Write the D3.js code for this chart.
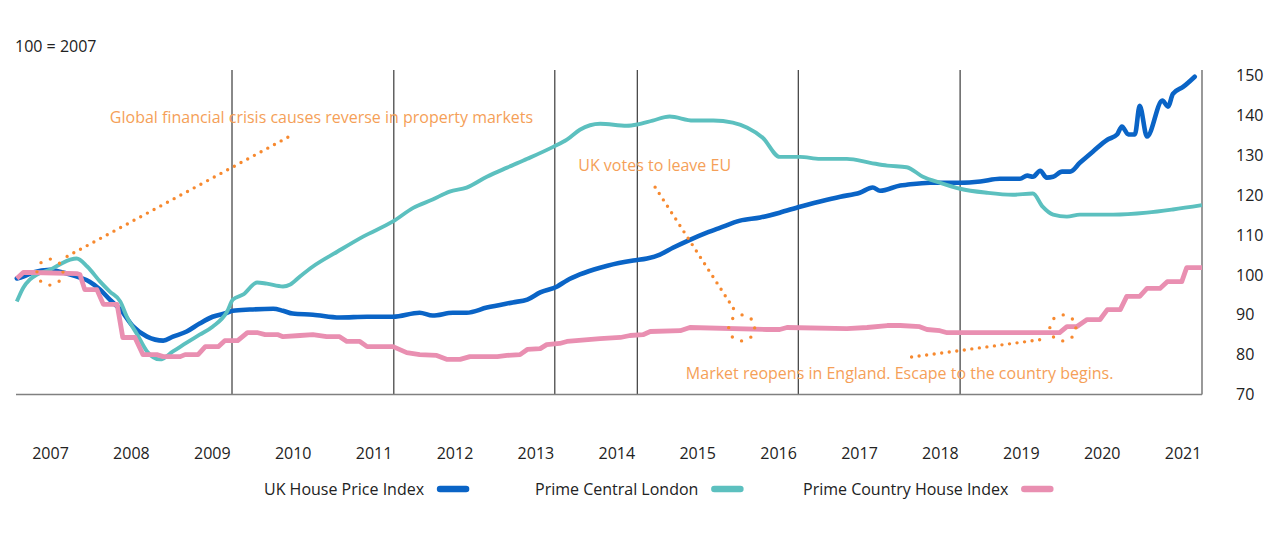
<!DOCTYPE html>
<html>
<head>
<meta charset="utf-8">
<script src="https://cdn.jsdelivr.net/npm/d3@7"></script>
<style>
  html, body { margin: 0; padding: 0; background: #fff; }
  svg { display: block; font-family: "Open Sans", Lato, sans-serif; }
</style>
</head>
<body>
<svg id="chart" width="1280" height="541"></svg>
<script>
// ---------- DATA ----------
const yearLabels = [2007, 2008, 2009, 2010, 2011, 2012, 2013, 2014, 2015, 2016, 2017, 2018, 2019, 2020, 2021];
const valueTicks = [70, 80, 90, 100, 110, 120, 130, 140, 150];
const gridYears = [2009.25, 2011.25, 2013.24, 2014.26, 2016.25, 2018.25];

// [decimal year, index value]
const ukHPI = [
  [2006.59, 99.1], [2006.67, 99.6], [2006.79, 100.6], [2007.00, 101.3], [2007.12, 100.8], [2007.25, 100.1],
  [2007.37, 99.3], [2007.49, 98.3], [2007.62, 96.3], [2007.74, 93.8], [2007.87, 91.3], [2008.03, 87.0],
  [2008.20, 84.5], [2008.40, 83.5], [2008.52, 84.5], [2008.69, 85.8], [2008.85, 87.8], [2009.01, 89.5],
  [2009.19, 90.5], [2009.26, 91.0], [2009.47, 91.3], [2009.76, 91.5], [2009.88, 91.0], [2010.00, 90.3],
  [2010.25, 90.0], [2010.58, 89.3], [2010.92, 89.5], [2011.24, 89.5], [2011.57, 90.5], [2011.73, 89.8],
  [2011.98, 90.5], [2012.15, 90.5], [2012.40, 91.8], [2012.72, 93.1], [2012.90, 93.8], [2013.06, 95.6],
  [2013.27, 97.1], [2013.39, 98.6], [2013.55, 100.1], [2013.80, 101.8], [2013.89, 102.3], [2014.21, 103.6],
  [2014.38, 104.1], [2014.54, 105.1], [2014.70, 106.8], [2014.91, 108.8], [2015.12, 110.6], [2015.28, 111.8],
  [2015.53, 113.6], [2015.78, 114.4], [2016.02, 115.6], [2016.27, 117.1], [2016.52, 118.4], [2016.77, 119.6],
  [2017.01, 120.6], [2017.17, 121.9], [2017.26, 121.1], [2017.51, 122.4], [2017.59, 122.6], [2017.88, 123.1],
  [2018.25, 123.1], [2018.50, 123.4], [2018.74, 124.1], [2018.99, 124.1], [2019.08, 124.9], [2019.15, 124.6],
  [2019.24, 126.1], [2019.32, 124.4], [2019.40, 124.6], [2019.51, 125.9], [2019.61, 125.9], [2019.73, 128.1],
  [2019.89, 130.9], [2020.07, 133.9], [2020.19, 135.2], [2020.25, 137.2], [2020.33, 135.2], [2020.41, 135.2],
  [2020.47, 142.4], [2020.56, 134.7], [2020.75, 143.7], [2020.82, 142.2], [2020.88, 145.4], [2021.01, 147.2],
  [2021.15, 149.7]
];

const primeCentralLondon = [
  [2006.59, 93.3], [2006.67, 96.8], [2006.75, 98.8], [2006.84, 100.1], [2007.00, 101.3], [2007.12, 102.6],
  [2007.25, 103.8], [2007.33, 104.1], [2007.46, 102.1], [2007.62, 98.3], [2007.74, 95.8], [2007.87, 93.3],
  [2007.95, 89.5], [2008.08, 85.0], [2008.20, 80.8], [2008.36, 78.8], [2008.52, 80.8], [2008.69, 83.0],
  [2008.85, 85.0], [2009.01, 87.0], [2009.19, 90.8], [2009.26, 93.8], [2009.39, 95.1], [2009.56, 98.1],
  [2009.68, 97.8], [2009.88, 97.1], [2009.97, 97.6], [2010.09, 99.6], [2010.25, 102.1], [2010.55, 105.8],
  [2010.87, 109.6], [2011.24, 113.4], [2011.49, 116.8], [2011.73, 118.9], [2011.94, 120.9], [2012.15, 121.9],
  [2012.40, 124.6], [2012.65, 126.9], [2012.90, 129.1], [2013.22, 132.1], [2013.39, 133.9], [2013.55, 136.4],
  [2013.80, 137.9], [2014.13, 137.4], [2014.26, 137.7], [2014.45, 138.7], [2014.66, 139.7], [2014.95, 138.7],
  [2015.20, 138.7], [2015.44, 138.2], [2015.62, 136.9], [2015.81, 134.4], [2016.02, 129.6], [2016.27, 129.6],
  [2016.52, 129.1], [2016.85, 129.1], [2017.14, 128.1], [2017.35, 127.4], [2017.59, 127.0], [2017.79, 124.6],
  [2018.00, 123.1], [2018.25, 121.6], [2018.58, 120.6], [2018.90, 120.1], [2019.15, 120.4], [2019.27, 117.1],
  [2019.40, 115.1], [2019.57, 114.6], [2019.73, 115.1], [2020.14, 115.1], [2020.56, 115.6], [2020.88, 116.4],
  [2021.24, 117.5]
];

const primeCountryHouse = [
  [2006.59, 99.1], [2006.67, 100.6], [2006.79, 100.6], [2007.33, 100.3], [2007.37, 100.1], [2007.43, 96.3],
  [2007.58, 96.3], [2007.66, 92.6], [2007.83, 92.6], [2007.90, 84.3], [2008.05, 84.3], [2008.15, 80.0],
  [2008.32, 80.0], [2008.40, 79.5], [2008.61, 79.5], [2008.67, 80.0], [2008.83, 80.0], [2008.92, 82.0],
  [2009.08, 82.0], [2009.16, 83.5], [2009.32, 83.5], [2009.44, 85.5], [2009.57, 85.5], [2009.66, 85.0],
  [2009.82, 85.0], [2009.88, 84.5], [2010.09, 84.8], [2010.25, 85.0], [2010.42, 84.5], [2010.58, 84.5],
  [2010.67, 83.3], [2010.83, 83.3], [2010.92, 82.0], [2011.24, 82.0], [2011.41, 80.5], [2011.57, 80.0],
  [2011.78, 79.8], [2011.91, 78.8], [2012.07, 78.8], [2012.19, 79.5], [2012.53, 79.5], [2012.65, 79.8],
  [2012.81, 80.0], [2012.90, 81.3], [2013.06, 81.5], [2013.14, 82.5], [2013.30, 82.8], [2013.39, 83.3],
  [2013.80, 84.0], [2014.05, 84.3], [2014.17, 84.8], [2014.33, 85.0], [2014.42, 85.8], [2014.79, 86.0],
  [2014.91, 86.8], [2015.86, 86.3], [2016.02, 86.3], [2016.11, 86.8], [2016.85, 86.5], [2017.10, 86.8],
  [2017.35, 87.3], [2017.51, 87.3], [2017.75, 87.0], [2017.84, 86.3], [2018.00, 86.0], [2018.09, 85.5],
  [2019.48, 85.5], [2019.57, 87.0], [2019.69, 87.0], [2019.82, 88.8], [2019.98, 88.8], [2020.07, 91.3],
  [2020.23, 91.3], [2020.31, 94.6], [2020.47, 94.6], [2020.56, 96.6], [2020.72, 96.6], [2020.81, 98.3],
  [2020.99, 98.3], [2021.05, 101.8], [2021.24, 101.8]
];

const seriesNames = ["UK House Price Index", "Prime Central London", "Prime Country House Index"];
const seriesColors = ["#0a64c6", "#5cc0bf", "#e98fb1"];

// annotations: text anchor, dotted leader line, dotted circle (in year / index units)
const annotationTexts = [
  "Global financial crisis causes reverse in property markets",
  "UK votes to leave EU",
  "Market reopens in England. Escape to the country begins."
];
const annotationTextAt = [[2007.74, 138.2], [2013.53, 126.0], [2014.86, 73.8]];
const annotationLineFrom = [[2009.94, 134.5], [2014.48, 122.0], [2017.65, 79.4]];
const annotationLineTo = [[2007.20, 104.5], [2015.47, 90.9], [2019.30, 83.9]];
const annotationCircleAt = [[2007.00, 100.7], [2015.55, 86.7], [2019.52, 86.7]];

// ---------- LAYOUT ----------
const svg = d3.select("#chart");
const plotLeft = 16, plotRight = 1202, plotTop = 70, plotBottom = 394.5;
const fontFamily = "'Open Sans', Lato, sans-serif";
const fs = 16;

const x = d3.scaleLinear().domain([2006.58, 2021.24]).range([plotLeft, plotRight]);
const y = d3.scaleLinear().domain([70, 150]).range([plotBottom, 75.5]);

// unit label
svg.append("text").attr("x", 15).attr("y", 52)
  .attr("font-size", fs).attr("fill", "#222").text("100 = 2007");

// grid lines
svg.append("g").selectAll("line").data(gridYears).join("line")
  .attr("x1", d => x(d)).attr("x2", d => x(d))
  .attr("y1", plotTop).attr("y2", plotBottom)
  .attr("stroke", "#3a3a3a").attr("stroke-width", 1.2);

// frame: bottom and right
svg.append("line").attr("x1", plotLeft).attr("x2", plotRight).attr("y1", plotBottom).attr("y2", plotBottom)
  .attr("stroke", "#808080").attr("stroke-width", 1.6);
svg.append("line").attr("x1", plotRight).attr("x2", plotRight).attr("y1", plotTop).attr("y2", plotBottom)
  .attr("stroke", "#808080").attr("stroke-width", 1.6);

// right axis
const yAxis = svg.append("g").attr("transform", `translate(${plotRight},0)`)
  .call(d3.axisRight(y).tickValues(valueTicks).tickSize(0).tickPadding(34));
yAxis.select(".domain").remove();
yAxis.selectAll("text").attr("font-size", fs).attr("fill", "#222").attr("font-family", fontFamily);

// bottom year labels
const xAxis = svg.append("g").attr("transform", `translate(0,${plotBottom})`)
  .call(d3.axisBottom(x).tickValues(yearLabels).tickFormat(d3.format("d")).tickSize(0).tickPadding(53));
xAxis.select(".domain").remove();
xAxis.selectAll("text").attr("font-size", fs).attr("fill", "#222").attr("font-family", fontFamily);

// lines
const lineSmooth = d3.line().x(d => x(d[0])).y(d => y(d[1])).curve(d3.curveMonotoneX);
const lineStep = d3.line().x(d => x(d[0])).y(d => y(d[1])).curve(d3.curveLinear);

svg.append("path").datum(ukHPI).attr("d", lineSmooth)
  .attr("fill", "none").attr("stroke", seriesColors[0]).attr("stroke-width", 4.6)
  .attr("stroke-linejoin", "round").attr("stroke-linecap", "round");
svg.append("path").datum(primeCentralLondon).attr("d", lineSmooth)
  .attr("fill", "none").attr("stroke", seriesColors[1]).attr("stroke-width", 3.9)
  .attr("stroke-linejoin", "round");
svg.append("path").datum(primeCountryHouse).attr("d", lineStep)
  .attr("fill", "none").attr("stroke", seriesColors[2]).attr("stroke-width", 4.8)
  .attr("stroke-linejoin", "round");

// annotations
const ann = svg.append("g");
const dotColor = "#f7892f";
annotationTexts.forEach((t, i) => {
  ann.append("line")
    .attr("x1", x(annotationLineFrom[i][0])).attr("y1", y(annotationLineFrom[i][1]))
    .attr("x2", x(annotationLineTo[i][0])).attr("y2", y(annotationLineTo[i][1]))
    .attr("stroke", dotColor).attr("stroke-width", 3.4)
    .attr("stroke-linecap", "round").attr("stroke-dasharray", "0 7.6");
  ann.append("circle")
    .attr("cx", x(annotationCircleAt[i][0])).attr("cy", y(annotationCircleAt[i][1]))
    .attr("r", 13).attr("fill", "none")
    .attr("stroke", dotColor).attr("stroke-width", 3.4)
    .attr("stroke-linecap", "round").attr("stroke-dasharray", "0 10.21");
  ann.append("text")
    .attr("x", x(annotationTextAt[i][0])).attr("y", y(annotationTextAt[i][1]))
    .attr("font-size", fs).attr("fill", "#f59f58").text(t);
});

// legend
const legendTextX = [264, 535, 803];
const legend = svg.append("g");
seriesNames.forEach((name, i) => {
  const txt = legend.append("text").attr("x", legendTextX[i]).attr("y", 495)
    .attr("font-size", fs).attr("fill", "#222").text(name);
  const w = txt.node().getComputedTextLength();
  legend.append("line")
    .attr("x1", legendTextX[i] + w + 16).attr("x2", legendTextX[i] + w + 42)
    .attr("y1", 489).attr("y2", 489)
    .attr("stroke", seriesColors[i]).attr("stroke-width", 6.5).attr("stroke-linecap", "round");
});
</script>
</body>
</html>
